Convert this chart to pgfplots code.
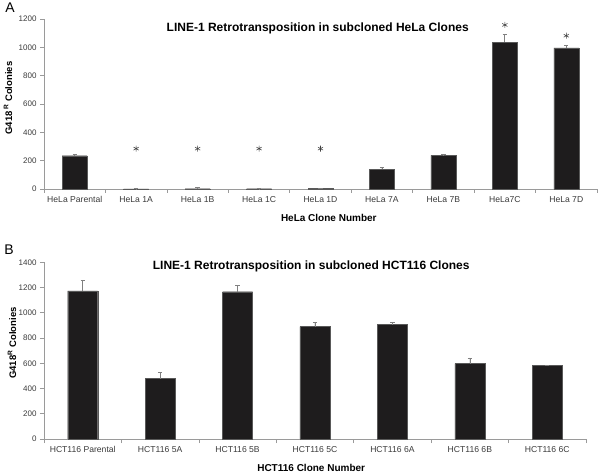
\documentclass[border=0pt]{standalone}
\usepackage{pgfplots}
\pgfplotsset{compat=1.18}
\usepackage{fontspec}
\setmainfont{Liberation Sans}
\definecolor{barc}{HTML}{1E1C1D}
\definecolor{axc}{HTML}{9A9A9A}
\definecolor{tkc}{HTML}{3A3A3A}
\pgfplotstableread{
x y e
0 235 12
1 1 1
2 2 8
3 2 1
4 3 3
5 141 14
6 238 4
7 1035 58
8 997 14
}\dataA
\pgfplotstableread{
x y
1 285
2 285
3 285
4 285
7 1158
8 1082
}\starsA
\pgfplotstableread{
x y e
0 1173 82
1 478 47
2 1167 53
3 890 35
4 906 19
5 597 45
6 584 0
}\dataB
\begin{document}
\begin{tikzpicture}
\useasboundingbox (0,0) rectangle (600pt,474pt);
\pgfplotsset{
  myax/.style={
    scale only axis,
    axis x line*=bottom, axis y line*=left,
    axis line style={draw=axc, line width=0.7pt},
    every tick/.style={draw=axc, line width=0.7pt},
    tick align=outside,
    major tick length=4pt,
    minor tick length=4pt,
    major x tick style={draw=none},
    ymin=0,
    clip=false,
    /pgf/number format/assume math mode=true,
    /pgf/number format/set thousands separator={},
    yticklabel style={font=\fontsize{8}{9}\selectfont, text=tkc},
    xticklabel style={font=\fontsize{8.6}{10}\selectfont, text=tkc},
    xlabel style={font=\bfseries\fontsize{10}{12}\selectfont, anchor=center},
    ylabel style={font=\bfseries\fontsize{9.5}{11}\selectfont, anchor=center},
  }
}
% Panel A
\begin{axis}[myax,
  at={(44pt,285pt)}, anchor=south west,
  width=553pt, height=170pt,
  xmin=-0.5, xmax=8.5, ymax=1200,
  ytick={0,200,...,1200},
  xtick={0,...,8},
  minor xtick={-0.5,0.5,...,8.5},
  xticklabels={HeLa Parental,HeLa 1A,HeLa 1B,HeLa 1C,HeLa 1D,HeLa 7A,HeLa 7B,HeLa7C,HeLa 7D},
  xlabel={HeLa Clone Number},
  xlabel style={at={(axis description cs:0.515,-0.1706)}},
  ylabel={G418\,\textsuperscript{R} Colonies},
  ylabel style={at={(axis description cs:-0.0651,0.535)}},
]
\addplot[ybar, bar width=25pt, fill=barc, draw=gray!70!black, line width=0.4pt,
  error bars/.cd, y dir=plus, y explicit,
  error bar style={draw=gray, line width=0.7pt},
  error mark options={rotate=90, mark size=2.2pt, draw=gray, line width=0.7pt}]
  table[x=x, y=y, y error=e] {\dataA};
\addplot[only marks, mark=asterisk, mark size=3pt, mark options={draw=black!75, line width=0.55pt}]
  table[x=x, y=y] {\starsA};
\node[font=\bfseries\fontsize{12}{14}\selectfont] at (axis description cs:0.495,0.947)
  {LINE-1 Retrotransposition in subcloned HeLa Clones};
\end{axis}
% Panel B
\begin{axis}[myax,
  at={(44pt,35pt)}, anchor=south west,
  width=542pt, height=176.7pt,
  xmin=-0.5, xmax=6.5, ymax=1400,
  ytick={0,200,...,1400},
  xtick={0,...,6},
  minor xtick={-0.5,0.5,...,6.5},
  xticklabels={HCT116 Parental,HCT116 5A,HCT116 5B,HCT116 5C,HCT116 6A,HCT116 6B,HCT116 6C},
  xlabel={HCT116 Clone Number},
  xlabel style={at={(axis description cs:0.493,-0.164)}},
  ylabel={G418\textsuperscript{R} Colonies},
  ylabel style={at={(axis description cs:-0.059,0.543)}},
]
\addplot[ybar, bar width=30pt, fill=barc, draw=gray!70!black, line width=0.4pt,
  error bars/.cd, y dir=plus, y explicit,
  error bar style={draw=gray, line width=0.7pt},
  error mark options={rotate=90, mark size=2.2pt, draw=gray, line width=0.7pt}]
  table[x=x, y=y, y error=e] {\dataB};
\node[font=\bfseries\fontsize{12}{14}\selectfont] at (axis description cs:0.493,0.975)
  {LINE-1 Retrotransposition in subcloned HCT116 Clones};
\end{axis}
\node[font=\fontsize{14}{16}\selectfont] at (10pt,466pt) {A};
\node[font=\fontsize{14}{16}\selectfont] at (9pt,224pt) {B};
\end{tikzpicture}
\end{document}
